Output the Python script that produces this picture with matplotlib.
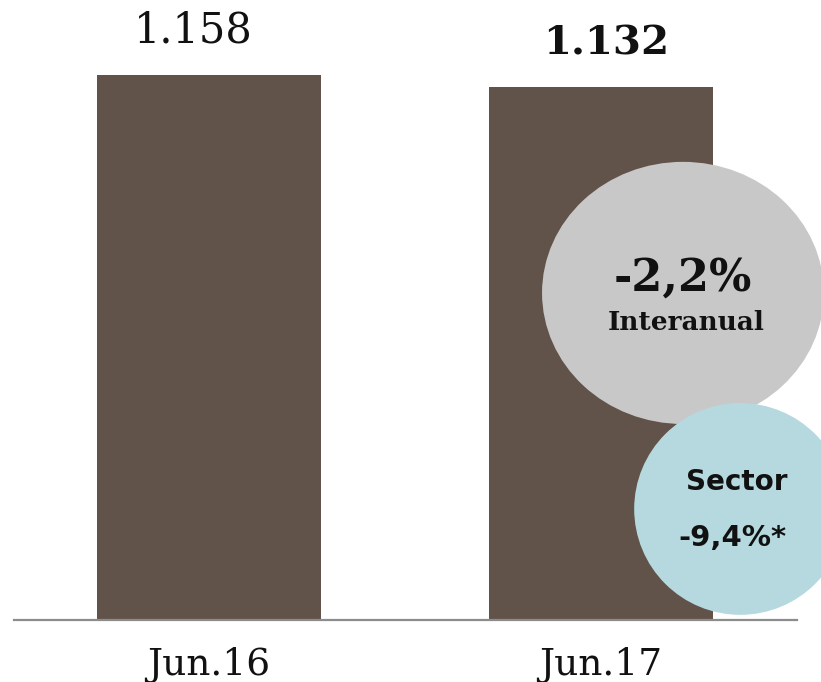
import matplotlib
matplotlib.use("Agg")
import matplotlib.pyplot as plt
from matplotlib.patches import Ellipse

# data
categories = ["Jun.16", "Jun.17"]
values = [1158, 1132]
value_labels = ["1.158", "1.132"]
change_label = "-2,2%"
change_sub = "Interanual"
sector_title = "Sector"
sector_label = "-9,4%*"

bar_color = "#615349"
slab = ["DejaVu Serif"]

fig = plt.figure(figsize=(8.21, 6.82), dpi=100)
ax = fig.add_axes([0, 0, 1, 1])

x = list(range(len(categories)))
ax.bar(x, values, width=0.571, color=bar_color, zorder=2)

# axes limits chosen so the layout matches the reference
ax.set_xlim(-0.533, 1.561)
ax.set_ylim(-131.7, 1317.4)
ax.axhline(0, xmin=0.017, xmax=0.971, color="#8c8c8c", lw=1.6, zorder=3)

# value labels
ax.text(x[0] - 0.04, values[0] + 95, value_labels[0], ha="center", va="center",
        fontsize=30, family=slab, color="#111111")
ax.text(x[1] + 0.013, values[1] + 92, value_labels[1], ha="center", va="center",
        fontsize=29, family=slab, fontweight="bold", color="#111111")

# category labels
for xi, cat in zip(x, categories):
    ax.text(xi, -95, cat, ha="center", va="center", fontsize=27, family=slab,
            color="#111111")

# bubbles
ax.add_patch(Ellipse((1.209, 695), 0.719, 557, color="#c8c8c8", zorder=4, lw=0))
ax.add_patch(Ellipse((1.355, 236), 0.541, 450, color="#b5d9de", zorder=5, lw=0))

ax.text(1.209, 727, change_label, ha="center", va="center", fontsize=32,
        fontweight="bold", family=slab, color="#111111", zorder=6)
ax.text(1.217, 633, change_sub, ha="center", va="center", fontsize=19,
        fontweight="bold", family=slab, color="#111111", zorder=6)
ax.text(1.346, 293, sector_title, ha="center", va="center", fontsize=20,
        fontweight="bold", color="#111111", zorder=6)
ax.text(1.335, 174, sector_label, ha="center", va="center", fontsize=21,
        fontweight="bold", color="#111111", zorder=6)

ax.axis("off")
fig.savefig("out.png", dpi=100)
